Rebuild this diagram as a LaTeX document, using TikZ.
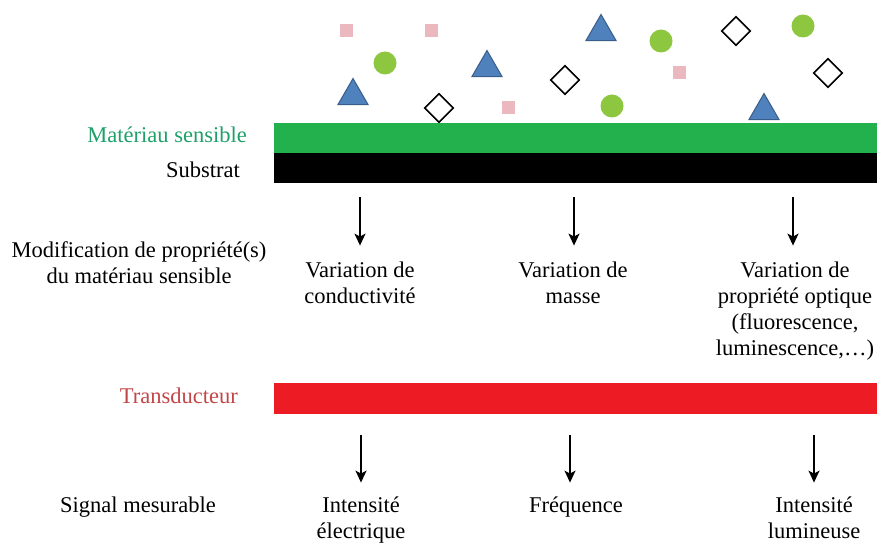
\documentclass[tikz,border=0pt]{standalone}
\usepackage{fontspec}
\setmainfont{Liberation Serif}
\usetikzlibrary{shapes.geometric,arrows.meta}
\definecolor{layerGreen}{RGB}{34,177,76}
\definecolor{layerRed}{RGB}{237,28,36}
\definecolor{textGreen}{RGB}{30,160,105}
\definecolor{textRed}{RGB}{192,70,72}
\definecolor{ballGreen}{RGB}{141,198,63}
\definecolor{triBlue}{RGB}{79,129,189}
\definecolor{triEdge}{RGB}{56,93,138}
\definecolor{speckPink}{RGB}{234,184,190}
\tikzset{label text/.style={font=\fontsize{22.5}{26}\selectfont,inner sep=0pt},
	result text/.style={label text,align=center,anchor=north},
	side text/.style={label text,anchor=base east},
	down arrow/.style={-{Stealth[length=12pt,width=11pt,inset=3pt]},line width=1.6pt},
	ball/.style={circle,fill=ballGreen,minimum size=23pt,inner sep=0pt},
	tri/.style={regular polygon,regular polygon sides=3,fill=triBlue,draw=triEdge,line width=1pt,minimum size=35pt,inner sep=0pt},
	gem/.style={diamond,draw,line width=1.6pt,fill=white,minimum size=29pt,inner sep=0pt},
	speck/.style={rectangle,fill=speckPink,minimum size=13pt,inner sep=0pt},
}

\begin{document}
\begin{tikzpicture}[x=1pt,y=-1pt]
	\useasboundingbox (0,0) rectangle (877,545);
	
	% particules
	\node[speck] (s1) at (346,31){};
	\node[speck] (s2) at (431,31){};
	\node[speck] (s3) at (508,108){};
	\node[speck] (s4) at (679,73){};
	\node[ball] (b1) at (385,63){};
	\node[ball] (b2) at (661,41){};
	\node[ball] (b3) at (612,106){};
	\node[ball] (b4) at (803,26){};
	\node[tri] (t1) at (353,96){};
	\node[tri] (t2) at (487,68){};
	\node[tri] (t3) at (601,32){};
	\node[tri] (t4) at (764,111){};
	\node[gem] (g1) at (439,108){};
	\node[gem] (g2) at (565,80){};
	\node[gem] (g3) at (736,31){};
	\node[gem] (g4) at (828,73){};
	
	% couches
	\fill[layerGreen] (274,123) rectangle (877,153);
	\fill[black] (274,153) rectangle (877,183);
	\fill[layerRed] (274,383) rectangle (877,414);
	
	\node[side text,textGreen] (sens) at (247,143){Matériau sensible};
	\node[side text] (subs) at (240,178){Substrat};
	\node[side text,textRed] (trans) at (238,403){Transducteur};
	\node[result text] (modif) at (139,241.6){Modification de propriété(s)\\du matériau sensible};
	\node[result text] (sig) at (138,496.6){Signal mesurable};
	
	% propriétés
	\node[result text] (var1) at (360,261.6){Variation de\\conductivité};
	\node[result text] (var2) at (573,261.6){Variation de\\masse};
	\node[result text] (var3) at (795,261.6){Variation de\\propriété optique\\(fluorescence,\\luminescence,\dots)};
	\coordinate (a1) at (360,197);
	\coordinate (a2) at (574,197);
	\coordinate (a3) at (793,197);
	
	% signaux
	\node[result text] (int1) at (361,496.6){Intensité\\électrique};
	\node[result text] (freq) at (576,496.6){Fréquence};
	\node[result text] (int2) at (814,496.6){Intensité\\lumineuse};
	\coordinate (c1) at (361,435);
	\coordinate (c2) at (570,435);
	\coordinate (c3) at (814,435);
	
	\path[down arrow]
	(a1) edge ([yshift=16pt]var1.north -| a1)
	(a2) edge ([yshift=16pt]var2.north -| a2)
	(a3) edge ([yshift=16pt]var3.north -| a3)
	(c1) edge ([yshift=14pt]int1.north -| c1)
	(c2) edge ([yshift=14pt]freq.north -| c2)
	(c3) edge ([yshift=14pt]int2.north -| c3);
\end{tikzpicture}
\end{document}
